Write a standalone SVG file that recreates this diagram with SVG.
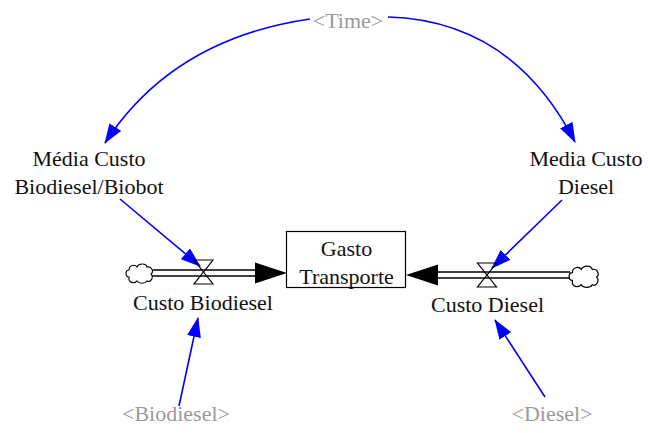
<svg xmlns="http://www.w3.org/2000/svg" width="648" height="433" viewBox="0 0 648 433">
<style>
text{font-family:"Liberation Serif","Times New Roman",serif;font-size:22px;text-anchor:middle;fill:#111}
.shadow{fill:#9a9a9a}
.link{fill:none;stroke:#0000ff;stroke-width:1.6;marker-end:url(#ah)}
.pipeO{stroke:#000;stroke-width:7.5;fill:none}
.pipeI{stroke:#fff;stroke-width:4.5;fill:none}
.valve{fill:none;stroke:#000;stroke-width:1.2}
.cloud{fill:#fff;stroke:#000;stroke-width:1.1}
</style>
<defs>
<marker id="ah" viewBox="0 0 20 14" refX="19" refY="7" markerWidth="20" markerHeight="14" markerUnits="userSpaceOnUse" orient="auto">
<path d="M0,0 L20,7 L0,14 Z" fill="#0000ff"/>
</marker>
<path id="cloudShape" d="M4,14 C0,14 0,7 4,7 C4,2 10,1 12,4 C14,0 21,0 22,4 C27,3 29,9 26,11 C29,14 26,20 22,18 C20,21 14,21 12,18 C9,21 3,20 4,14 Z"/>
</defs>
<rect width="648" height="433" fill="#fff"/>

<g id="connectors">
<path class="link" d="M310,19 Q172.5,39 105,143"/>
<path class="link" d="M388,17 Q512.5,20.5 575,142"/>
<path class="link" d="M120,199 L200,266"/>
<path class="link" d="M562,200 L492,268"/>
<path class="link" d="M179,406 L198,318"/>
<path class="link" d="M545,397 L495,320"/>
</g>

<g id="flow-biodiesel">
<path class="pipeO" d="M151,273 L257,273"/>
<path class="pipeI" d="M150,273 L258,273"/>
<polygon points="255,262.5 287,273 255,283.5" fill="#000"/>
<use href="#cloudShape" class="cloud" transform="translate(125,263)"/>
<path class="valve" d="M194,260 L213,260 L203.5,272 Z M203.5,272 L213,284 L194,284 Z"/>
<text x="203" y="310">Custo Biodiesel</text>
</g>

<g id="flow-diesel">
<path class="pipeO" d="M436,275 L570,275"/>
<path class="pipeI" d="M435,275 L571,275"/>
<polygon points="438,264.5 406,275 438,285.5" fill="#000"/>
<use href="#cloudShape" class="cloud" transform="translate(568,265) scale(1.1,1.1)"/>
<path class="valve" d="M477.5,263 L496.5,263 L487,275 Z M487,275 L496.5,287 L477.5,287 Z"/>
<text x="487.5" y="312">Custo Diesel</text>
</g>

<g id="gasto-transporte">
<rect x="286.5" y="231.5" width="119" height="56" fill="#fff" stroke="#000" stroke-width="1.2"/>
<text x="346.5" y="256">Gasto</text>
<text x="346.5" y="284">Transporte</text>
</g>

<g id="media-custo-biodiesel">
<text x="89" y="166">Média Custo</text>
<text x="89" y="194">Biodiesel/Biobot</text>
</g>

<g id="media-custo-diesel">
<text x="586" y="166">Media Custo</text>
<text x="586" y="194">Diesel</text>
</g>

<g id="time"><text class="shadow" x="348" y="28">&lt;Time&gt;</text></g>
<g id="biodiesel"><text class="shadow" x="176" y="421">&lt;Biodiesel&gt;</text></g>
<g id="diesel"><text class="shadow" x="552" y="421">&lt;Diesel&gt;</text></g>
</svg>
